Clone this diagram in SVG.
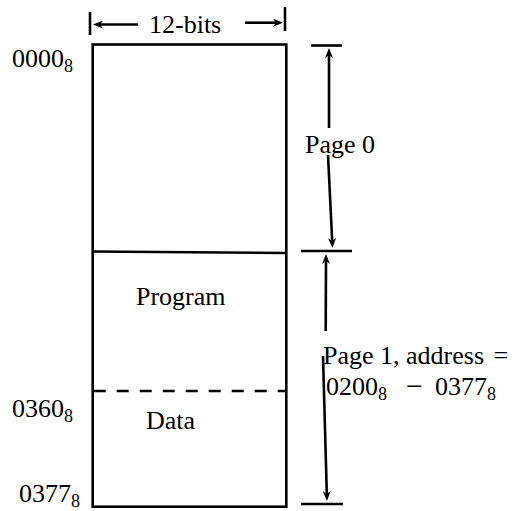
<svg xmlns="http://www.w3.org/2000/svg" width="513" height="511" viewBox="0 0 513 511">
<defs>
<marker id="ah" viewBox="0 0 10 8" refX="3" refY="4" markerWidth="10" markerHeight="8" markerUnits="userSpaceOnUse" orient="auto"><path d="M0,0 L10,4 L0,8 L3,4 Z" fill="#000"/></marker>
</defs>
<style>
.t{font-family:"Liberation Serif","Times New Roman",serif;font-size:26px;fill:#000}
.s{font-size:18px}
.ln{stroke:#000;stroke-width:2.6;fill:none}
.ar{stroke:#000;stroke-width:2.6;fill:none;marker-end:url(#ah)}
</style>
<rect width="513" height="511" fill="#fff"/>
<g id="memory">
<rect class="ln" x="92.7" y="44.5" width="193.6" height="462.2" stroke-width="2.8"/>
</g>
<g id="page0">
<text class="t" x="305" y="153">Page 0</text>
</g>
<g id="program">
<line class="ln" x1="92.7" y1="251.5" x2="286.3" y2="253"/>
<text class="t" x="136" y="305">Program</text>
</g>
<g id="data">
<line class="ln" x1="92.7" y1="391" x2="286.3" y2="391" stroke-dasharray="12 11" stroke-dashoffset="-1"/>
<text class="t" x="146" y="429">Data</text>
</g>
<g id="labels">
<text class="t" x="149" y="33">12-bits</text>
<text class="t" x="12" y="67">0000<tspan class="s" dy="5">8</tspan></text>
<text class="t" x="12" y="417">0360<tspan class="s" dy="5">8</tspan></text>
<text class="t" x="19" y="502">0377<tspan class="s" dy="5">8</tspan></text>
<text class="t" x="323" y="364">Page 1, address <tspan dx="3">=</tspan></text>
<text class="t" x="326" y="395">0200<tspan class="s" dy="5">8</tspan><tspan dx="19" dy="-4" font-size="30">−</tspan><tspan dx="12" dy="-1">0377</tspan><tspan class="s" dy="5">8</tspan></text>
</g>
<g id="connectors">
<line class="ln" x1="90" y1="12" x2="90" y2="35"/>
<line class="ln" x1="285" y1="7" x2="285" y2="31"/>
<line class="ar" x1="138" y1="24.5" x2="100" y2="24.5"/>
<line class="ar" x1="245" y1="22.7" x2="276" y2="22.7"/>
<line class="ln" x1="311" y1="45.5" x2="342" y2="45.5"/>
<line class="ln" x1="301" y1="251" x2="352" y2="251"/>
<line class="ln" x1="301" y1="504" x2="343" y2="504"/>
<line class="ar" x1="329" y1="128" x2="329" y2="55"/>
<line class="ar" x1="328" y1="155" x2="332.2" y2="241"/>
<line class="ar" x1="325.7" y1="331" x2="326" y2="261"/>
<line class="ar" x1="323" y1="356" x2="326.8" y2="494"/>
</g>
</svg>
